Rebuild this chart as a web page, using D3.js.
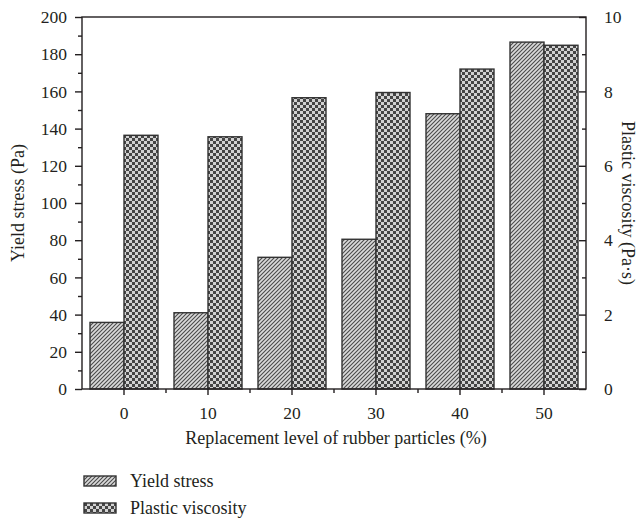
<!DOCTYPE html>
<html>
<head>
<meta charset="utf-8">
<script src="https://cdn.jsdelivr.net/npm/d3@7"></script>
<style>
  html, body { margin: 0; padding: 0; background: #fff; }
  svg text { font-family: "Liberation Serif", "DejaVu Serif", serif; fill: #231f20; }
</style>
</head>
<body>
<svg id="chart" width="644" height="522"></svg>
<script>
// Rubber replacement level (%) and measured rheology
const levels = ["0", "10", "20", "30", "40", "50"];
const yieldStress = [35.8, 41, 70.8, 80.5, 148, 186.5];      // Pa
const plasticViscosity = [6.82, 6.78, 7.83, 7.97, 8.6, 9.24]; // Pa·s
const leftTicks = [0, 20, 40, 60, 80, 100, 120, 140, 160, 180, 200];
const rightTicks = [0, 2, 4, 6, 8, 10];
const seriesNames = ["Yield stress", "Plastic viscosity"];

const svg = d3.select("#chart");
const m = { left: 82, right: 586, top: 17, bottom: 389 };
const ink = "#231f20";

// Fill patterns: diagonal hatch and checkerboard
const defs = svg.append("defs");
const hatch = defs.append("pattern").attr("id", "hatch")
  .attr("patternUnits", "userSpaceOnUse").attr("width", 4).attr("height", 4);
hatch.append("rect").attr("width", 4).attr("height", 4).attr("fill", "#dadada");
hatch.append("path").attr("d", "M-1,1 l2,-2 M0,4 l4,-4 M3,5 l2,-2")
  .attr("stroke", "#4a4a4a").attr("stroke-width", 1.1);

const check = defs.append("pattern").attr("id", "check")
  .attr("patternUnits", "userSpaceOnUse").attr("width", 6).attr("height", 6);
check.append("rect").attr("width", 6).attr("height", 6).attr("fill", "#d2d2d2");
check.append("rect").attr("width", 3).attr("height", 3).attr("fill", "#454545");
check.append("rect").attr("x", 3).attr("y", 3).attr("width", 3).attr("height", 3).attr("fill", "#454545");

const x = d3.scaleBand().domain(levels).range([m.left, m.right]);
const yL = d3.scaleLinear().domain([0, 200]).range([m.bottom, m.top]);
const yR = d3.scaleLinear().domain([0, 10]).range([m.bottom, m.top]);
const barW = 34;

// Bars
svg.append("g").selectAll("rect").data(levels).join("rect")
  .attr("x", d => x(d) + x.bandwidth() / 2 - barW)
  .attr("y", (d, i) => yL(yieldStress[i]))
  .attr("width", barW)
  .attr("height", (d, i) => yL(0) - yL(yieldStress[i]))
  .attr("fill", "url(#hatch)").attr("stroke", "#333").attr("stroke-width", 1.4);

svg.append("g").selectAll("rect").data(levels).join("rect")
  .attr("x", d => x(d) + x.bandwidth() / 2)
  .attr("y", (d, i) => yR(plasticViscosity[i]))
  .attr("width", barW)
  .attr("height", (d, i) => yR(0) - yR(plasticViscosity[i]))
  .attr("fill", "url(#check)").attr("stroke", "#333").attr("stroke-width", 1.4);

// Frame
svg.append("rect").attr("x", m.left).attr("y", m.top)
  .attr("width", m.right - m.left).attr("height", m.bottom - m.top)
  .attr("fill", "none").attr("stroke", ink).attr("stroke-width", 1.4);

function styleAxis(g) {
  g.select(".domain").remove();
  g.selectAll("line").attr("stroke", ink).attr("stroke-width", 1.4);
  g.selectAll("text").attr("font-size", 17.5).style("font-family", "Liberation Serif, serif").attr("fill", ink);
}

// Left axis: majors every 20, minors every 10
svg.append("g").attr("transform", `translate(${m.left},0)`)
  .call(d3.axisLeft(yL).tickValues(d3.range(10, 200, 20)).tickSize(4).tickFormat(""))
  .call(styleAxis);
svg.append("g").attr("transform", `translate(${m.left},0)`)
  .call(d3.axisLeft(yL).tickValues(leftTicks).tickSize(7).tickPadding(8))
  .call(styleAxis);

// Right axis: ticks point inward
svg.append("g").attr("transform", `translate(${m.right},0)`)
  .call(d3.axisRight(yR).tickValues(d3.range(1, 10, 2)).tickSize(-4).tickFormat(""))
  .call(styleAxis);
svg.append("g").attr("transform", `translate(${m.right},0)`)
  .call(d3.axisRight(yR).tickValues(rightTicks).tickSize(-7).tickPadding(18))
  .call(styleAxis);

// Bottom axis: majors at category centres, minors between
const xMinor = levels.slice(0, -1).map(d => x(d) + x.bandwidth());
svg.append("g").attr("transform", `translate(0,${m.bottom})`)
  .selectAll("line").data(xMinor).join("line")
  .attr("x1", d => d).attr("x2", d => d).attr("y1", 0).attr("y2", 4)
  .attr("stroke", ink).attr("stroke-width", 1.4);
svg.append("g").attr("transform", `translate(0,${m.bottom})`)
  .call(d3.axisBottom(x).tickSize(6).tickPadding(12))
  .call(styleAxis);

// Axis titles
svg.append("text").attr("x", (m.left + m.right) / 2 + 2).attr("y", 444)
  .attr("text-anchor", "middle").attr("font-size", 18)
  .text("Replacement level of rubber particles (%)");
svg.append("text").attr("transform", `translate(24,${(m.top + m.bottom) / 2}) rotate(-90)`)
  .attr("text-anchor", "middle").attr("font-size", 18)
  .text("Yield stress (Pa)");
svg.append("text").attr("transform", `translate(622,${(m.top + m.bottom) / 2}) rotate(90)`)
  .attr("text-anchor", "middle").attr("font-size", 18)
  .text("Plastic viscosity (Pa·s)");

// Legend
const legend = svg.append("g").selectAll("g").data(seriesNames).join("g")
  .attr("transform", (d, i) => `translate(84,${476 + i * 27})`);
legend.append("rect").attr("width", 32).attr("height", 10)
  .attr("fill", (d, i) => i === 0 ? "url(#hatch)" : "url(#check)")
  .attr("stroke", "#333").attr("stroke-width", 1.4);
legend.append("text").attr("x", 46).attr("y", 11).attr("font-size", 18).text(d => d);
</script>
</body>
</html>
